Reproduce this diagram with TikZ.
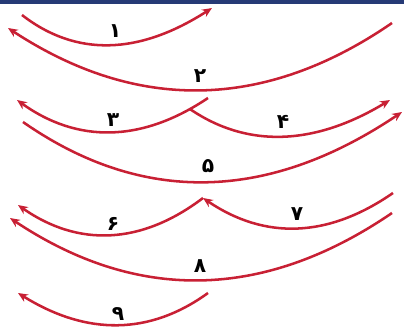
\documentclass[tikz,border=0pt]{standalone}
\usepackage{fontspec}
\usepackage{tikz}
\usetikzlibrary{arrows.meta}
\newfontfamily\arabicfont[Script=Arabic]{DejaVu Sans}
\definecolor{arcred}{RGB}{200,32,52}
\definecolor{barblue}{RGB}{38,58,118}

\begin{document}
\begin{tikzpicture}[x=0.025cm,y=-0.025cm,
  arc/.style={draw=arcred,line width=1.8pt},
  tip/.style={-{Stealth[length=7pt,width=6pt]}},
  lbl/.style={font=\arabicfont\bfseries\Large,inner sep=0pt}]
\useasboundingbox (0,0) rectangle (404,331);
\fill[barblue] (0,0) rectangle (404,4);
% ends of the arcs
\coordinate (a1s) at (22,15);   \coordinate (a1e) at (212,8);
\coordinate (a2s) at (392,23);  \coordinate (a2e) at (8,28);
\coordinate (a3s) at (208,98);  \coordinate (a3e) at (17,100);
\coordinate (a4e) at (390,100);
\coordinate (a5s) at (23,122);  \coordinate (a5e) at (402,112);
\coordinate (j67) at (203,198);
\coordinate (a6s) at (j67);     \coordinate (a6e) at (18,205);
\coordinate (a7s) at (393,193);
\coordinate (a8s) at (392,213); \coordinate (a8e) at (10,218);
\coordinate (a9s) at (208,293); \coordinate (a9e) at (18,293);
% arcs
\draw[arc,tip] (a1s) .. controls (76,57) and (139,55) .. (a1e);
\draw[arc,tip] (a2s) .. controls (264,111) and (136,112) .. (a2e);
\draw[arc,tip] (a3s) .. controls (141,143) and (77,143) .. (a3e)
  coordinate[pos=0.09] (j34);
\draw[arc,tip] (j34) .. controls (247,148) and (314,146) .. (a4e);
\draw[arc,tip] (a5s) .. controls (142,205) and (268,202) .. (a5e);
\draw[arc,tip] (a6s) .. controls (141,245) and (78,247) .. (a6e);
\draw[arc,tip] (a7s) .. controls (328,238) and (265,240) .. (j67);
\draw[arc,tip] (a8s) .. controls (263,301) and (136,302) .. (a8e);
\draw[arc,tip] (a9s) .. controls (150,335) and (87,336) .. (a9e);
% numbers
\node[lbl] (n1) at (115,31) {۱};
\node[lbl] (n2) at (200,76) {۲};
\node[lbl] (n3) at (113,120) {۳};
\node[lbl] (n4) at (283,122) {۴};
\node[lbl] (n5) at (208,166) {۵};
\node[lbl] (n6) at (113,224) {۶};
\node[lbl] (n7) at (297,214) {۷};
\node[lbl] (n8) at (200,266) {۸};
\node[lbl] (n9) at (118,314) {۹};
\end{tikzpicture}
\end{document}
